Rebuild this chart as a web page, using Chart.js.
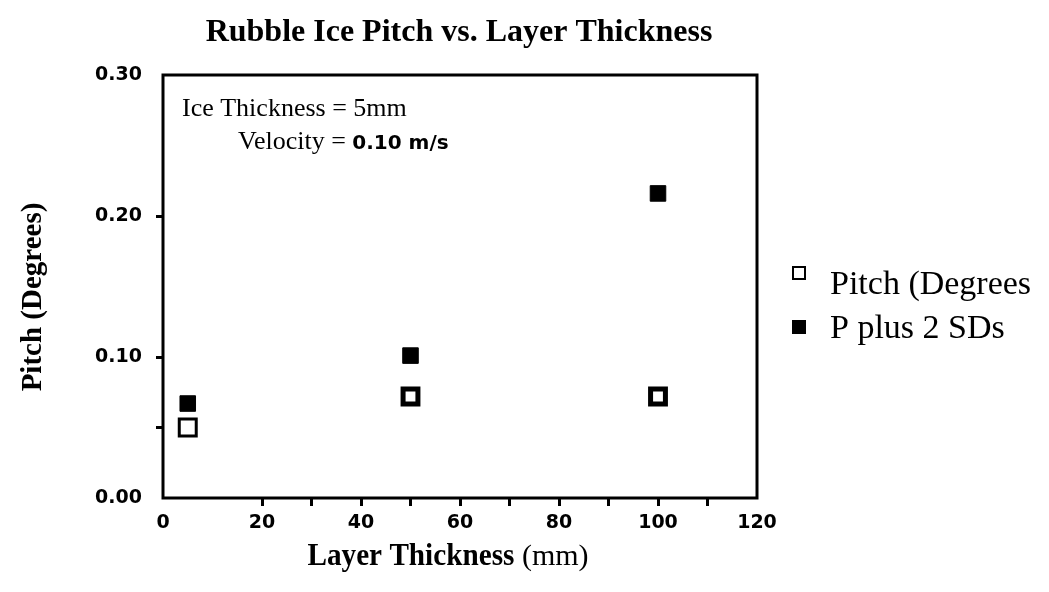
<!DOCTYPE html>
<html>
<head>
<meta charset="utf-8">
<script src="https://cdn.jsdelivr.net/npm/chart.js@4.4.1/dist/chart.umd.min.js"></script>
<style>
  html, body { margin: 0; padding: 0; background: #fff; }
  #wrap { width: 1049px; height: 592px; }
</style>
</head>
<body>
<div id="wrap"><canvas id="myChart" width="1049" height="592"></canvas></div>
<script>
// data
const layerThickness = [5, 50, 100];
const pitchDeg = [0.050, 0.072, 0.072];
const pitchPlus2SD = [0.067, 0.101, 0.216];
const seriesNames = ['Pitch (Degrees', 'P plus 2 SDs'];
const xTickLabels = [0, 20, 40, 60, 80, 100, 120];
const xTickMarks = [20, 30, 40, 50, 60, 70, 80, 90, 100, 110];
const yTickLabels = [0.00, 0.10, 0.20, 0.30];
const yTickMarks = [0.05, 0.10, 0.20];

const serif = '"Liberation Serif", "Times New Roman", serif';
const sans = '"DejaVu Sans", Verdana, sans-serif';

// box, titles, legend and note
const extras = {
  id: 'extras',
  beforeDatasetsDraw(chart) {
    const ctx = chart.ctx, a = chart.chartArea;
    ctx.save();
    ctx.strokeStyle = '#000';
    ctx.lineWidth = 3;
    ctx.strokeRect(a.left, a.top, a.right - a.left, a.bottom - a.top);
    ctx.restore();
  },
  afterDraw(chart) {
    const ctx = chart.ctx, a = chart.chartArea;
    ctx.save();
    ctx.fillStyle = '#000';
    ctx.textBaseline = 'alphabetic';

    // title
    ctx.font = 'bold 32px ' + serif;
    ctx.textAlign = 'center';
    ctx.fillText('Rubble Ice Pitch vs. Layer Thickness', 459, 41, 517);

    // x axis title (mixed weights)
    ctx.textAlign = 'left';
    const t1 = 'Layer Thickness', t2 = ' (mm)';
    ctx.font = 'bold 31px ' + serif;
    let w1 = Math.min(ctx.measureText(t1).width, 207);
    ctx.font = '30px ' + serif;
    let w2 = ctx.measureText(t2).width;
    let x0 = 448 - (w1 + w2) / 2;
    ctx.font = 'bold 31px ' + serif;
    ctx.fillText(t1, x0, 565, 207);
    ctx.font = '30px ' + serif;
    ctx.fillText(t2, x0 + w1, 565);

    // y axis title
    ctx.save();
    ctx.translate(41, 297);
    ctx.rotate(-Math.PI / 2);
    ctx.textAlign = 'center';
    ctx.font = 'bold 29px ' + serif;
    ctx.fillText('Pitch (Degrees)', 0, 0, 196);
    ctx.restore();

    // note inside plot
    ctx.textAlign = 'left';
    ctx.font = '26px ' + serif;
    ctx.fillText('Ice Thickness = 5mm', 182, 116);
    const v = 'Velocity = ';
    ctx.fillText(v, 238, 149);
    let vw = ctx.measureText(v).width;
    ctx.font = 'bold 20px ' + sans;
    ctx.fillText('0.10 m/s', 238 + vw, 149);

    // legend
    const rows = [273, 327];
    const bases = [294, 338];
    chart.data.datasets.forEach((ds, i) => {
      const cy = rows[i];
      if (ds.backgroundColor === '#fff') {
        ctx.fillStyle = '#fff';
        ctx.fillRect(793, cy - 6, 12, 12);
        ctx.strokeStyle = '#000';
        ctx.lineWidth = 2;
        ctx.strokeRect(793, cy - 6, 12, 12);
      } else {
        ctx.fillStyle = '#000';
        ctx.fillRect(792, cy - 7, 14, 14);
      }
      ctx.fillStyle = '#000';
      ctx.font = '34px ' + serif;
      ctx.fillText(ds.label, 830, bases[i], 207);
    });
    ctx.restore();
  }
};

const config = {
  type: 'scatter',
  data: {
    datasets: [{
      label: seriesNames[0],
      data: layerThickness.map((x, i) => ({ x: x, y: pitchDeg[i] })),
      pointStyle: 'rect',
      pointRadius: (c) => c.dataIndex === 0 ? 12 : 10.5,
      backgroundColor: '#fff',
      borderColor: '#000',
      borderWidth: (c) => c.dataIndex === 0 ? 3 : 5
    }, {
      label: seriesNames[1],
      data: layerThickness.map((x, i) => ({ x: x, y: pitchPlus2SD[i] })),
      pointStyle: 'rect',
      pointRadius: 11,
      backgroundColor: '#000',
      borderColor: '#000',
      borderWidth: 1
    }]
  },
  options: {
    responsive: false,
    animation: false,
    layout: { padding: { top: 75, right: 292, bottom: 0, left: 0 } },
    plugins: {
      legend: { display: false },
      tooltip: { enabled: false }
    },
    scales: {
      x: {
        type: 'linear',
        min: 0,
        max: 120,
        ticks: {
          stepSize: 10,
          color: '#000',
          padding: 6,
          font: { family: sans, size: 19, weight: 'bold' },
          callback: (v) => xTickLabels.includes(v) ? String(v) : ''
        },
        grid: {
          drawOnChartArea: false,
          drawTicks: true,
          tickLength: 8,
          lineWidth: 3,
          color: (c) => (c.tick && xTickMarks.includes(c.tick.value)) ? '#000' : 'rgba(0,0,0,0)'
        },
        border: { display: false },
        afterFit: (s) => { s.height = 94; }
      },
      y: {
        min: 0,
        max: 0.3,
        ticks: {
          stepSize: 0.05,
          color: '#000',
          padding: 14,
          font: { family: sans, size: 19, weight: 'bold' },
          callback: (v) => yTickLabels.some(t => Math.abs(t - v) < 1e-6) ? v.toFixed(2) : ''
        },
        grid: {
          drawOnChartArea: false,
          drawTicks: true,
          tickLength: 7,
          lineWidth: 3,
          color: (c) => (c.tick && yTickMarks.some(t => Math.abs(t - c.tick.value) < 1e-6)) ? '#000' : 'rgba(0,0,0,0)'
        },
        border: { display: false },
        afterFit: (s) => { s.width = 163; }
      }
    }
  },
  plugins: [extras]
};

const myChart = new Chart(document.getElementById('myChart'), config);
</script>
</body>
</html>
